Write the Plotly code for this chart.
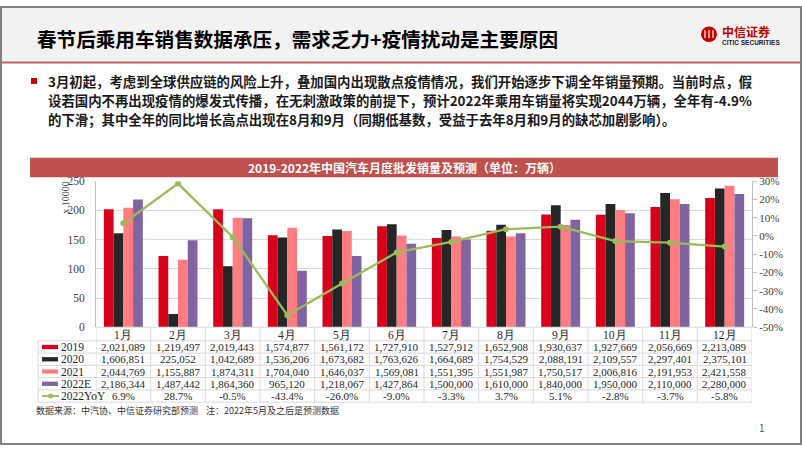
import plotly.graph_objects as go

W, H = 802, 451

months = ['1月', '2月', '3月', '4月', '5月', '6月', '7月', '8月', '9月', '10月', '11月', '12月']
series_names = ['2019', '2020', '2021', '2022E']
s2019 = [2021089, 1219497, 2019443, 1574877, 1561172, 1727910, 1527912, 1652908, 1930637, 1927669, 2056669, 2213089]
s2020 = [1606851, 225052, 1042689, 1536206, 1673682, 1763626, 1664689, 1754529, 2088191, 2109557, 2297401, 2375101]
s2021 = [2044769, 1155887, 1874311, 1704040, 1646037, 1569081, 1551395, 1551987, 1750517, 2006816, 2191953, 2421558]
s2022 = [2186344, 1487442, 1864360, 965120, 1218067, 1427864, 1500000, 1610000, 1840000, 1950000, 2110000, 2280000]
yoy_name = '2022YoY'
yoy = [6.9, 28.7, -0.5, -43.4, -26.0, -9.0, -3.3, 3.7, 5.1, -2.8, -3.7, -5.8]

left_ticks = [0, 50, 100, 150, 200, 250]
right_ticks = [30, 20, 10, 0, -10, -20, -30, -40, -50]

title = '春节后乘用车销售数据承压，需求乏力+疫情扰动是主要原因'
para = ['3月初起，考虑到全球供应链的风险上升，叠加国内出现散点疫情情况，我们开始逐步下调全年销量预期。当前时点，假',
        '设若国内不再出现疫情的爆发式传播，在无刺激政策的前提下，预计2022年乘用车销量将实现2044万辆，全年有-4.9%',
        '的下滑；其中全年的同比增长高点出现在8月和9月（同期低基数，受益于去年8月和9月的缺芯加剧影响）。']
chart_title = '2019-2022年中国汽车月度批发销量及预测（单位：万辆）'
footer = '数据来源：中汽协、中信证券研究部预测    注：2022年5月及之后是预测数据'

colors = ['#D9001B', '#262626', '#FF7C80', '#8064A2']
line_color = '#9BBB59'

def X(px):
    return px / W

def Y(py):
    return 1 - py / H

SANS = 'Noto Sans CJK SC'
SERIF = 'Liberation Serif'

x_idx = list(range(len(months)))
all_series = [s2019, s2020, s2021, s2022]

fig = go.Figure()
for name, vals, c in zip(series_names, all_series, colors):
    fig.add_trace(go.Bar(x=x_idx, y=[v / 10000 for v in vals], name=name,
                         marker=dict(color=c, line=dict(width=0)), showlegend=False))
fig.add_trace(go.Scatter(x=x_idx, y=yoy, yaxis='y2', mode='lines+markers', name=yoy_name,
                         line=dict(color=line_color, width=2.3),
                         marker=dict(color=line_color, size=6), showlegend=False))

plot_l, plot_r, plot_t, plot_b = 96, 752, 180, 330

fig.update_layout(
    width=W, height=H, margin=dict(l=0, r=0, t=0, b=0),
    paper_bgcolor='white', plot_bgcolor='white',
    barmode='group', bargap=0.287, bargroupgap=0,
    xaxis=dict(domain=[X(plot_l), X(plot_r)], range=[-0.5, 11.5], showticklabels=False,
               showgrid=False, zeroline=False, showline=False, fixedrange=True),
    yaxis=dict(domain=[Y(plot_b), Y(plot_t)], range=[0, 250], tickvals=left_ticks,
               showgrid=True, gridcolor='#D9D9D9', gridwidth=1, zeroline=False,
               showline=True, linecolor='#BFBFBF', linewidth=1, ticklabelstandoff=8,
               tickfont=dict(family=SERIF, size=11.5, color='#404040'), ticks='', ticklen=0),
    yaxis2=dict(overlaying='y', side='right', range=[-50, 30], tickvals=right_ticks,
                ticktext=[f'{t}%' for t in right_ticks], showgrid=False, zeroline=False,
                showline=True, linecolor='#BFBFBF', linewidth=1, ticks='outside', ticklen=4,
                tickcolor='#BFBFBF',
                tickfont=dict(family=SERIF, size=11, color='#404040')),
)

shapes = []
ann = []

def txt(text, x, y, size, color, family=SANS, xanchor='center', weight='normal', xref='paper', **kw):
    ann.append(dict(text=text, x=x, y=y, xref=xref, yref='paper', xanchor=xanchor, yanchor='middle',
                    showarrow=False, font=dict(family=family, size=size, color=color, weight=weight), **kw))

# page background band and border
shapes.append(dict(type='rect', xref='paper', yref='paper', x0=0, x1=1, y0=Y(57), y1=1,
                   fillcolor='#F2F2F2', line=dict(width=0), layer='below'))
shapes.append(dict(type='line', xref='paper', yref='paper', x0=X(2), x1=X(800), y0=Y(58), y1=Y(58),
                   line=dict(color='#C86060', width=2)))
shapes.append(dict(type='rect', xref='paper', yref='paper', x0=X(1), x1=X(801), y0=Y(450), y1=Y(1),
                   line=dict(color='#7F7F7F', width=2)))

# title
txt(title, X(35), Y(33), 19.6, '#000000', xanchor='left', weight='bold')

# logo
shapes.append(dict(type='circle', xref='paper', yref='paper', x0=X(701), x1=X(717), y0=Y(37), y1=Y(21),
                   fillcolor='#C00000', line=dict(width=0)))
for dx in [-4, 0, 4]:
    shapes.append(dict(type='line', xref='paper', yref='paper', x0=X(709 + dx), x1=X(709 + dx),
                       y0=Y(33), y1=Y(25), line=dict(color='white', width=1.2)))
txt('中信证券', X(720), Y(26), 12, '#C00000', xanchor='left', weight='bold')
txt('CITIC SECURITIES', X(720), Y(38), 6.5, '#222222', family='Liberation Sans', xanchor='left', weight='bold')

# bullet + paragraph
shapes.append(dict(type='rect', xref='paper', yref='paper', x0=X(31), x1=X(37), y0=Y(80), y1=Y(74),
                   fillcolor='#C00000', line=dict(width=0)))
for i, line in enumerate(para):
    txt(line, X(46), Y(77 + 19.3 * i), 13.4, '#1A1A1A', xanchor='left', weight='bold')

# chart title bar
shapes.append(dict(type='rect', xref='paper', yref='paper', x0=X(30), x1=X(778), y0=Y(176), y1=Y(156),
                   fillcolor='#C0504D', line=dict(width=0)))
txt(chart_title, X(404), Y(166), 12, 'white', weight='bold')

# y-axis unit label
txt('x 10000', X(66), Y(197), 10, '#404040', family=SERIF, textangle=-90)

# data table
tbl_top = 330
hdr_h = 14
row_h = 12.6
n_rows = 5
row_edges = [tbl_top, tbl_top + hdr_h] + [tbl_top + hdr_h + row_h * (r + 1) for r in range(n_rows)]
tbl_bottom = row_edges[-1]
grid = '#D9D9D9'
for r, yy in enumerate(row_edges):
    x0 = 38 if r >= 1 else plot_l
    shapes.append(dict(type='line', xref='paper', yref='paper', x0=X(x0), x1=X(plot_r), y0=Y(yy), y1=Y(yy),
                       line=dict(color=grid, width=1)))
shapes.append(dict(type='line', xref='paper', yref='paper', x0=X(38), x1=X(38), y0=Y(tbl_top + hdr_h),
                   y1=Y(tbl_bottom), line=dict(color=grid, width=1)))
for k in range(len(months) + 1):
    shapes.append(dict(type='line', xref='x', yref='paper', x0=k - 0.5, x1=k - 0.5, y0=Y(tbl_top),
                       y1=Y(tbl_bottom), line=dict(color=grid, width=1)))

tsize, tcol = 11, '#262626'
for k, m in enumerate(months):
    txt(m, k, Y(tbl_top + hdr_h * 0.5 + 0.5), 11.5, tcol, family=SERIF, xref='x')
rows = [(n, [f'{v:,}' for v in vals]) for n, vals in zip(series_names, all_series)]
rows.append((yoy_name, [f'{v:.1f}%' for v in yoy]))
for r, (name, cells) in enumerate(rows):
    yc = tbl_top + hdr_h + row_h * (r + 0.5)
    if r < 4:
        shapes.append(dict(type='rect', xref='paper', yref='paper', x0=X(42), x1=X(58), y0=Y(yc + 2.2),
                           y1=Y(yc - 2.2), fillcolor=colors[r], line=dict(width=0)))
    else:
        shapes.append(dict(type='line', xref='paper', yref='paper', x0=X(42), x1=X(59), y0=Y(yc), y1=Y(yc),
                           line=dict(color=line_color, width=2)))
        shapes.append(dict(type='circle', xref='paper', yref='paper', x0=X(48), x1=X(53), y0=Y(yc + 2.5),
                           y1=Y(yc - 2.5), fillcolor=line_color, line=dict(width=0)))
    txt(name, X(59), Y(yc), 11.5, tcol, family=SERIF, xanchor='left')
    for k, c in enumerate(cells):
        txt(c, k, Y(yc), tsize, tcol, family=SERIF, xref='x')

# footer
txt(footer, X(34), Y(416), 9, '#333333', xanchor='left')
txt('1', X(762), Y(433), 10, '#595959')

fig.update_layout(shapes=shapes, annotations=ann)
fig.write_html('out.html', config={'displayModeBar': False},
               post_script="document.body.style.margin='0';document.body.style.padding='0';document.body.style.overflow='hidden';")
